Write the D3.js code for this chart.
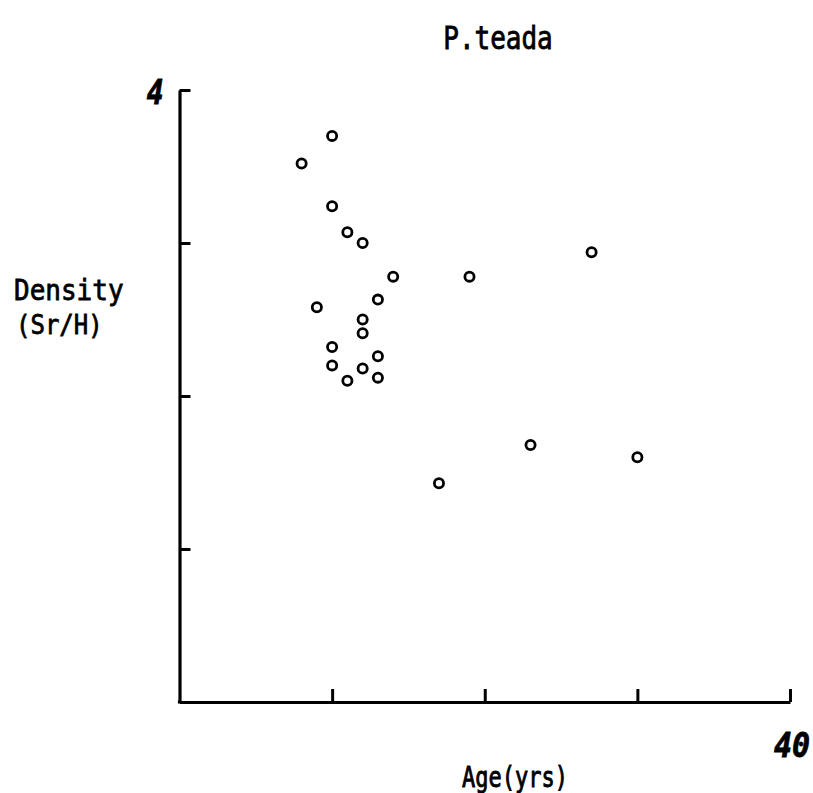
<!DOCTYPE html>
<html>
<head>
<meta charset="utf-8">
<script src="https://cdn.jsdelivr.net/npm/d3@7"></script>
<style>
  html, body { margin: 0; padding: 0; background: #fff; }
  svg text { font-family: "DejaVu Sans Mono", monospace; fill: #000; stroke: #000; stroke-width: 0.7; }
</style>
</head>
<body>
<script>
// Stand age (years) and stem density for P. teada plots
const ages      = [10, 8, 10, 11, 12, 14, 19, 27, 13, 9, 12, 12, 10, 13, 10, 12, 11, 13, 23, 30, 17];
const densities = [3.70, 3.52, 3.24, 3.07, 3.00, 2.78, 2.78, 2.94, 2.63, 2.58, 2.50, 2.41, 2.32, 2.26, 2.20, 2.18, 2.10, 2.12, 1.68, 1.60, 1.43];
const xTicks = [10, 20, 30, 40];
const yTicks = [1, 2, 3, 4];
const title = "P.teada";
const xTitle = "Age(yrs)";
const yTitle = ["Density", "(Sr/H)"];

const W = 813, H = 793;
const svg = d3.select("body").append("svg").attr("width", W).attr("height", H);

const x = d3.scaleLinear().domain([0, 40]).range([179.5, 790]);
const y = d3.scaleLinear().domain([0, 4]).range([702, 90]);

// y axis: ticks point inward (right), no numeric labels
const yAxis = svg.append("g").attr("transform", `translate(${x(0)},0)`)
  .call(d3.axisLeft(y).tickValues(yTicks).tickSize(-11).tickSizeOuter(0).tickFormat(""));
// x axis: ticks point upward
const xAxis = svg.append("g").attr("transform", `translate(0,${y(0)})`)
  .call(d3.axisBottom(x).tickValues(xTicks).tickSize(-13).tickSizeOuter(0).tickFormat(""));
[yAxis, xAxis].forEach(g => {
  g.select(".domain").attr("stroke", "#000").attr("stroke-width", 3.2);
  g.selectAll(".tick line").attr("stroke", "#000").attr("stroke-width", 3);
});
// join the two axis lines at the origin
svg.append("rect").attr("x", x(0) - 1.6).attr("y", y(0) - 1.6).attr("width", 3.2).attr("height", 3.2);

// text helper: vertically stretched glyphs anchored at (tx, ty)
function label(tx, ty, size, sy, anchor, str) {
  return svg.append("text")
    .attr("transform", `translate(${tx},${ty}) scale(1,${sy})`)
    .attr("text-anchor", anchor).attr("font-size", size).text(str);
}

// end labels
label(x(0) - 16, y(4) + 14, 28, 1.2, "end", yTicks[yTicks.length - 1])
  .attr("font-weight", "bold").attr("font-style", "italic");
label(x(40) + 2, y(0) + 55, 30, 1.15, "middle", xTicks[xTicks.length - 1])
  .attr("font-weight", "bold").attr("font-style", "italic");

// titles
label(498, 49, 26, 1.2, "middle", title);
label(515, 787, 22, 1.3, "middle", xTitle);
label(14, 300, 26, 1.1, "start", yTitle[0]);
label(16, 334, 24, 1.1, "start", yTitle[1]);

// points
svg.append("g").selectAll("circle")
  .data(ages.map((a, i) => [a, densities[i]]))
  .join("circle")
  .attr("cx", d => x(d[0]))
  .attr("cy", d => y(d[1]))
  .attr("r", 4.6)
  .attr("fill", "none")
  .attr("stroke", "#000")
  .attr("stroke-width", 2.8);
</script>
</body>
</html>
